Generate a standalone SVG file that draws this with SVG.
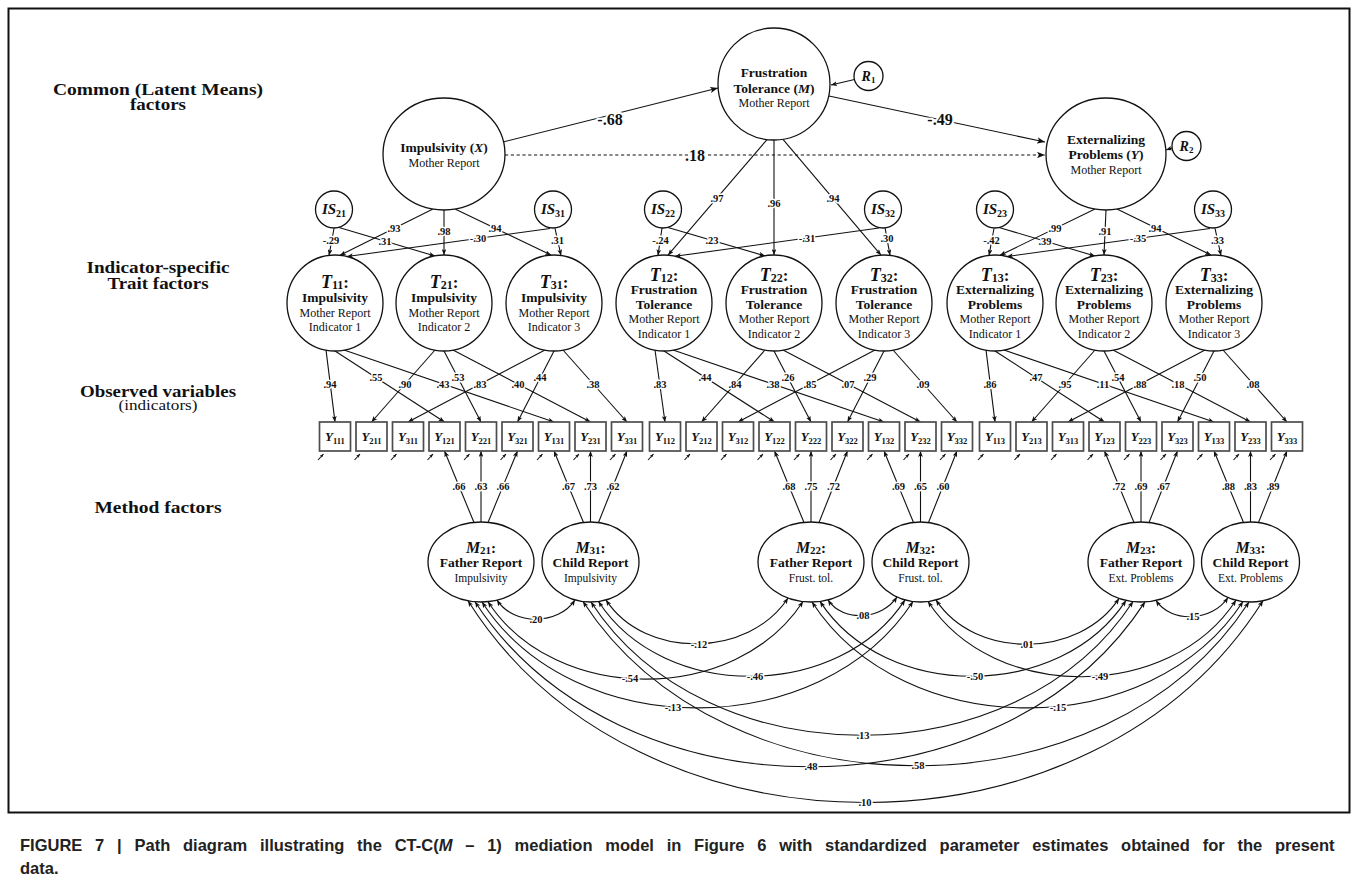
<svg xmlns="http://www.w3.org/2000/svg" width="1358" height="895" viewBox="0 0 1358 895">
<style>
.ln{fill:none;stroke:#111;stroke-width:1.1}
.dash{stroke-dasharray:3.2 2.6}
.nd{fill:#fff;stroke:#111;stroke-width:1.3}
.bx{fill:#fff;stroke:#4d4d4d;stroke-width:1.7}
text{font-family:"Liberation Serif","Times New Roman",serif;fill:#111;text-anchor:middle}
.b{font-weight:bold}
.bi{font-weight:bold;font-style:italic}
.f13{font-size:13.5px}
.sm{font-size:12px}
.xs{font-size:11.5px}
.lb{font-size:10.5px;font-weight:bold;stroke:#fff;stroke-width:3;paint-order:stroke;stroke-linejoin:round;dominant-baseline:central}
.big{font-size:16px;font-weight:bold;stroke:#fff;stroke-width:4;paint-order:stroke;stroke-linejoin:round;dominant-baseline:central}
.side{font-size:16px;font-weight:bold}
.cap{font-family:"Liberation Sans",Arial,sans-serif;font-weight:bold;font-size:16.5px;fill:#222;text-anchor:start}
</style>
<defs>
<marker id="a" viewBox="0 0 10 8" refX="10" refY="4" markerWidth="6" markerHeight="4.8" markerUnits="userSpaceOnUse" orient="auto-start-reverse"><path d="M0,0 L10,4 L0,8 L2.5,4z" fill="#111"/></marker>
<marker id="aL" viewBox="0 0 10 8" refX="10" refY="4" markerWidth="8" markerHeight="6.4" markerUnits="userSpaceOnUse" orient="auto-start-reverse"><path d="M0,0 L10,4 L0,8 L2.5,4z" fill="#111"/></marker>
<marker id="aS" viewBox="0 0 10 8" refX="10" refY="4" markerWidth="4" markerHeight="3.2" markerUnits="userSpaceOnUse" orient="auto"><path d="M0,0 L10,4 L0,8 L2.5,4z" fill="#111"/></marker>
</defs>

<!-- frame -->
<rect x="8.5" y="8.5" width="1341" height="804" fill="none" stroke="#111" stroke-width="2"/>

<!-- level captions -->
<g id="level-labels">
<text x="158" y="95" class="side" textLength="210" lengthAdjust="spacingAndGlyphs">Common (Latent Means)</text>
<text x="158" y="109.5" class="side" textLength="56" lengthAdjust="spacingAndGlyphs">factors</text>
<text x="158" y="273" class="side" textLength="143" lengthAdjust="spacingAndGlyphs">Indicator-specific</text>
<text x="158" y="289" class="side" textLength="101" lengthAdjust="spacingAndGlyphs">Trait factors</text>
<text x="158" y="397" class="side" textLength="156" lengthAdjust="spacingAndGlyphs">Observed variables</text>
<text x="158" y="410" style="font-size:14px" textLength="79" lengthAdjust="spacingAndGlyphs">(indicators)</text>
<text x="158" y="512.5" class="side" textLength="127" lengthAdjust="spacingAndGlyphs">Method factors</text>
</g>

<g id="connectors">
<!-- structural paths between common factors -->
<line x1="503" y1="142" x2="718" y2="88" class="ln" marker-end="url(#aL)"/>
<line x1="829" y1="96" x2="1045" y2="142" class="ln" marker-end="url(#aL)"/>
<line x1="505" y1="155" x2="1045" y2="155" class="ln dash" marker-end="url(#aL)"/>
<line x1="854.5" y1="79.5" x2="831" y2="85" class="ln" marker-end="url(#a)"/>
<line x1="1172" y1="148" x2="1166" y2="150" class="ln" marker-end="url(#a)"/>

<!-- common factors to trait factors -->
<line x1="433" y1="209" x2="340" y2="255.3" class="ln" marker-end="url(#a)"/>
<line x1="444" y1="210" x2="444" y2="255" class="ln" marker-end="url(#a)"/>
<line x1="455" y1="209" x2="551" y2="255.1" class="ln" marker-end="url(#a)"/>
<line x1="767" y1="139.6" x2="668" y2="255.2" class="ln" marker-end="url(#a)"/>
<line x1="774" y1="140" x2="774" y2="255" class="ln" marker-end="url(#a)"/>
<line x1="783" y1="139.3" x2="881" y2="255.1" class="ln" marker-end="url(#a)"/>
<line x1="1095" y1="209" x2="1000" y2="255.3" class="ln" marker-end="url(#a)"/>
<line x1="1106" y1="210" x2="1104" y2="255" class="ln" marker-end="url(#a)"/>
<line x1="1117" y1="209" x2="1211" y2="255.1" class="ln" marker-end="url(#a)"/>

<!-- indicator-specific factors to trait factors -->
<line x1="334" y1="228.5" x2="329" y2="255.4" class="ln" marker-end="url(#a)"/>
<line x1="339" y1="227.5" x2="435" y2="256" class="ln" marker-end="url(#a)"/>
<line x1="550" y1="228.5" x2="347" y2="256.5" class="ln" marker-end="url(#a)"/>
<line x1="555" y1="228.4" x2="561" y2="255.5" class="ln" marker-end="url(#a)"/>
<line x1="662" y1="228" x2="658" y2="255.4" class="ln" marker-end="url(#a)"/>
<line x1="668" y1="227.5" x2="765" y2="255.9" class="ln" marker-end="url(#a)"/>
<line x1="879" y1="228" x2="675" y2="256.3" class="ln" marker-end="url(#a)"/>
<line x1="885" y1="227.5" x2="890" y2="255.4" class="ln" marker-end="url(#a)"/>
<line x1="994" y1="228.5" x2="989" y2="255.4" class="ln" marker-end="url(#a)"/>
<line x1="999" y1="227.5" x2="1095" y2="256" class="ln" marker-end="url(#a)"/>
<line x1="1210" y1="228.5" x2="1007" y2="256.5" class="ln" marker-end="url(#a)"/>
<line x1="1215" y1="228.4" x2="1221" y2="255.5" class="ln" marker-end="url(#a)"/>

<!-- trait factors to observed variables -->
<line x1="326" y1="350" x2="335" y2="422" class="ln" marker-end="url(#a)"/>
<line x1="335" y1="351" x2="444.5" y2="422" class="ln" marker-end="url(#a)"/>
<line x1="344" y1="350" x2="554" y2="422" class="ln" marker-end="url(#a)"/>
<line x1="435" y1="350" x2="371.5" y2="422" class="ln" marker-end="url(#a)"/>
<line x1="444" y1="351" x2="481" y2="422" class="ln" marker-end="url(#a)"/>
<line x1="453" y1="350" x2="590.5" y2="422" class="ln" marker-end="url(#a)"/>
<line x1="545" y1="350" x2="408" y2="422" class="ln" marker-end="url(#a)"/>
<line x1="554" y1="351" x2="517.5" y2="422" class="ln" marker-end="url(#a)"/>
<line x1="563" y1="350" x2="627" y2="422" class="ln" marker-end="url(#a)"/>

<line x1="655" y1="350" x2="665" y2="422" class="ln" marker-end="url(#a)"/>
<line x1="664" y1="351" x2="774.5" y2="422" class="ln" marker-end="url(#a)"/>
<line x1="673" y1="350" x2="884" y2="422" class="ln" marker-end="url(#a)"/>
<line x1="765" y1="350" x2="701.5" y2="422" class="ln" marker-end="url(#a)"/>
<line x1="774" y1="351" x2="811" y2="422" class="ln" marker-end="url(#a)"/>
<line x1="783" y1="350" x2="920.5" y2="422" class="ln" marker-end="url(#a)"/>
<line x1="875" y1="350" x2="738" y2="422" class="ln" marker-end="url(#a)"/>
<line x1="884" y1="351" x2="847.5" y2="422" class="ln" marker-end="url(#a)"/>
<line x1="893" y1="350" x2="957" y2="422" class="ln" marker-end="url(#a)"/>

<line x1="986" y1="350" x2="995" y2="422" class="ln" marker-end="url(#a)"/>
<line x1="995" y1="351" x2="1104.5" y2="422" class="ln" marker-end="url(#a)"/>
<line x1="1004" y1="350" x2="1214" y2="422" class="ln" marker-end="url(#a)"/>
<line x1="1095" y1="350" x2="1031.5" y2="422" class="ln" marker-end="url(#a)"/>
<line x1="1104" y1="351" x2="1141" y2="422" class="ln" marker-end="url(#a)"/>
<line x1="1113" y1="350" x2="1250.5" y2="422" class="ln" marker-end="url(#a)"/>
<line x1="1205" y1="350" x2="1068" y2="422" class="ln" marker-end="url(#a)"/>
<line x1="1214" y1="351" x2="1177.5" y2="422" class="ln" marker-end="url(#a)"/>
<line x1="1223" y1="350" x2="1287" y2="422" class="ln" marker-end="url(#a)"/>

<!-- method factors to observed variables -->
<line x1="474" y1="522.5" x2="444.5" y2="451" class="ln" marker-end="url(#a)"/>
<line x1="481" y1="522" x2="481" y2="451" class="ln" marker-end="url(#a)"/>
<line x1="488" y1="522.5" x2="517.5" y2="451" class="ln" marker-end="url(#a)"/>
<line x1="583.5" y1="522.5" x2="554" y2="451" class="ln" marker-end="url(#a)"/>
<line x1="590.5" y1="522" x2="590.5" y2="451" class="ln" marker-end="url(#a)"/>
<line x1="598.5" y1="522.5" x2="627" y2="451" class="ln" marker-end="url(#a)"/>
<line x1="804" y1="522.5" x2="774.5" y2="451" class="ln" marker-end="url(#a)"/>
<line x1="811" y1="522" x2="811" y2="451" class="ln" marker-end="url(#a)"/>
<line x1="819" y1="522.5" x2="847.5" y2="451" class="ln" marker-end="url(#a)"/>
<line x1="913.5" y1="522.5" x2="884" y2="451" class="ln" marker-end="url(#a)"/>
<line x1="920.5" y1="522" x2="920.5" y2="451" class="ln" marker-end="url(#a)"/>
<line x1="928.5" y1="522.5" x2="957" y2="451" class="ln" marker-end="url(#a)"/>
<line x1="1134" y1="522.5" x2="1104.5" y2="451" class="ln" marker-end="url(#a)"/>
<line x1="1141" y1="522" x2="1141" y2="451" class="ln" marker-end="url(#a)"/>
<line x1="1149" y1="522.5" x2="1177.5" y2="451" class="ln" marker-end="url(#a)"/>
<line x1="1243.5" y1="522.5" x2="1214" y2="451" class="ln" marker-end="url(#a)"/>
<line x1="1250.5" y1="522" x2="1250.5" y2="451" class="ln" marker-end="url(#a)"/>
<line x1="1258.5" y1="522.5" x2="1287" y2="451" class="ln" marker-end="url(#a)"/>

<!-- residual arrows of the observed variables -->
<g class="ln" marker-end="url(#aS)">
<line x1="318" y1="460" x2="323.5" y2="454"/><line x1="354.5" y1="460" x2="360" y2="454"/><line x1="391" y1="460" x2="396.5" y2="454"/>
<line x1="427.5" y1="460" x2="433" y2="454"/><line x1="464" y1="460" x2="469.5" y2="454"/><line x1="500.5" y1="460" x2="506" y2="454"/>
<line x1="537" y1="460" x2="542.5" y2="454"/><line x1="573.5" y1="460" x2="579" y2="454"/><line x1="610" y1="460" x2="615.5" y2="454"/>
<line x1="648" y1="460" x2="653.5" y2="454"/><line x1="684.5" y1="460" x2="690" y2="454"/><line x1="721" y1="460" x2="726.5" y2="454"/>
<line x1="757.5" y1="460" x2="763" y2="454"/><line x1="794" y1="460" x2="799.5" y2="454"/><line x1="830.5" y1="460" x2="836" y2="454"/>
<line x1="867" y1="460" x2="872.5" y2="454"/><line x1="903.5" y1="460" x2="909" y2="454"/><line x1="940" y1="460" x2="945.5" y2="454"/>
<line x1="978" y1="460" x2="983.5" y2="454"/><line x1="1014.5" y1="460" x2="1020" y2="454"/><line x1="1051" y1="460" x2="1056.5" y2="454"/>
<line x1="1087.5" y1="460" x2="1093" y2="454"/><line x1="1124" y1="460" x2="1129.5" y2="454"/><line x1="1160.5" y1="460" x2="1166" y2="454"/>
<line x1="1197" y1="460" x2="1202.5" y2="454"/><line x1="1233.5" y1="460" x2="1239" y2="454"/><line x1="1270" y1="460" x2="1275.5" y2="454"/>
</g>

<!-- method factor correlations -->
<g class="ln" marker-start="url(#a)" marker-end="url(#a)">
<path d="M497,600.1 C513.6,625.7 558.4,625.5 575,599.9"/>
<path d="M828,599.9 C842.7,622.6 882.3,619.6 897,596.9"/>
<path d="M1156,600.4 C1171.4,624 1212.6,621.1 1228,597.5"/>
<path d="M606,599.9 C644.8,659.7 749.2,657.8 788,598"/>
<path d="M936,599.9 C975,660 1080,658.5 1119,598.4"/>
<path d="M488,601.7 C555.2,705.1 735.8,704.9 803,601.5"/>
<path d="M598.5,601.5 C663.9,702.2 839.6,700.6 905,599.9"/>
<path d="M820,601.4 C885.3,701.9 1060.7,700.9 1126,600.4"/>
<path d="M928,601.5 C993.7,702.6 1170.3,701.3 1236,600.2"/>
<path d="M482,602 C573.9,743.5 821.1,743 913,601.5"/>
<path d="M812,602 C903.9,743.5 1151.1,743 1243,601.5"/>
<path d="M591,602 C706.6,780 1017.4,779.5 1133,601.5"/>
<path d="M475,601.7 C617.9,821.7 1002.1,821.9 1145,601.9"/>
<path d="M583,601.5 C725.1,820.2 1106.9,820.7 1249,602"/>
<path d="M468,600.8 C637.6,869.8 1093.4,869.7 1263,600.7"/>
</g>

<!-- coefficient labels -->
<text x="610" y="119" class="big">-.68</text>
<text x="940" y="119.5" class="big">-.49</text>
<text x="695" y="155" class="big">.18</text>

<text x="394" y="228" class="lb">.93</text>
<text x="444" y="231" class="lb">.98</text>
<text x="495" y="228" class="lb">.94</text>
<text x="331" y="240" class="lb">-.29</text>
<text x="385" y="241.5" class="lb">.31</text>
<text x="478" y="238" class="lb">-.30</text>
<text x="557.5" y="240" class="lb">.31</text>

<text x="717" y="198" class="lb">.97</text>
<text x="774" y="203" class="lb">.96</text>
<text x="833" y="198" class="lb">.94</text>
<text x="660.5" y="240" class="lb">-.24</text>
<text x="712" y="240.5" class="lb">.23</text>
<text x="807" y="238" class="lb">-.31</text>
<text x="887" y="238" class="lb">.30</text>

<text x="1055" y="228" class="lb">.99</text>
<text x="1105" y="231" class="lb">.91</text>
<text x="1155" y="228" class="lb">.94</text>
<text x="991.5" y="240" class="lb">-.42</text>
<text x="1045" y="241.5" class="lb">.39</text>
<text x="1138" y="238" class="lb">-.35</text>
<text x="1217.5" y="240" class="lb">.33</text>

<text x="330" y="384" class="lb">.94</text>
<text x="376" y="377" class="lb">.55</text>
<text x="443" y="384" class="lb">.43</text>
<text x="405" y="384" class="lb">.90</text>
<text x="458" y="377" class="lb">.53</text>
<text x="518" y="384" class="lb">.40</text>
<text x="480" y="384" class="lb">.83</text>
<text x="540" y="377" class="lb">.44</text>
<text x="593" y="384" class="lb">.38</text>

<text x="660" y="384" class="lb">.83</text>
<text x="705" y="377" class="lb">.44</text>
<text x="773" y="384" class="lb">.38</text>
<text x="735" y="384" class="lb">.84</text>
<text x="788" y="377" class="lb">.26</text>
<text x="848" y="384" class="lb">.07</text>
<text x="810" y="384" class="lb">.85</text>
<text x="870" y="377" class="lb">.29</text>
<text x="923" y="384" class="lb">.09</text>

<text x="990" y="384" class="lb">.86</text>
<text x="1036" y="377" class="lb">.47</text>
<text x="1103" y="384" class="lb">.11</text>
<text x="1065" y="384" class="lb">.95</text>
<text x="1118" y="377" class="lb">.54</text>
<text x="1178" y="384" class="lb">.18</text>
<text x="1140" y="384" class="lb">.88</text>
<text x="1200" y="377" class="lb">.50</text>
<text x="1253" y="384" class="lb">.08</text>

<text x="459" y="486" class="lb">.66</text>
<text x="481" y="486" class="lb">.63</text>
<text x="503" y="486" class="lb">.66</text>
<text x="568.5" y="486" class="lb">.67</text>
<text x="590.5" y="486" class="lb">.73</text>
<text x="613" y="486" class="lb">.62</text>
<text x="789" y="486" class="lb">.68</text>
<text x="811" y="486" class="lb">.75</text>
<text x="833.5" y="486" class="lb">.72</text>
<text x="898.5" y="486" class="lb">.69</text>
<text x="920.5" y="486" class="lb">.65</text>
<text x="943" y="486" class="lb">.60</text>
<text x="1119" y="486" class="lb">.72</text>
<text x="1141" y="486" class="lb">.69</text>
<text x="1163.5" y="486" class="lb">.67</text>
<text x="1228.5" y="486" class="lb">.88</text>
<text x="1250.5" y="486" class="lb">.83</text>
<text x="1273" y="486" class="lb">.89</text>

<text x="536" y="619" class="lb">.20</text>
<text x="863" y="615.5" class="lb">.08</text>
<text x="1193" y="616.5" class="lb">.15</text>
<text x="699" y="644" class="lb">-.12</text>
<text x="1027" y="644" class="lb">.01</text>
<text x="630" y="678" class="lb">-.54</text>
<text x="755" y="676" class="lb">-.46</text>
<text x="975" y="676" class="lb">-.50</text>
<text x="1100" y="676" class="lb">-.49</text>
<text x="673" y="707" class="lb">-.13</text>
<text x="1058" y="707" class="lb">-.15</text>
<text x="863" y="735" class="lb">.13</text>
<text x="811" y="766" class="lb">.48</text>
<text x="918" y="765.5" class="lb">.58</text>
<text x="865" y="802" class="lb">.10</text>
</g>

<!-- common (latent means) factors -->
<g id="X">
<ellipse cx="444" cy="154" rx="61" ry="56" class="nd"/>
<text x="444" y="151.5" class="b f13">Impulsivity (<tspan class="bi">X</tspan>)</text>
<text x="444" y="167" class="sm">Mother Report</text>
</g>
<g id="M">
<circle cx="774" cy="84" r="56" class="nd"/>
<text x="774" y="77" class="b f13">Frustration</text>
<text x="774" y="92.5" class="b f13">Tolerance (<tspan class="bi">M</tspan>)</text>
<text x="774" y="107" class="sm">Mother Report</text>
</g>
<g id="Y">
<ellipse cx="1106" cy="154" rx="60" ry="56" class="nd"/>
<text x="1106" y="144" class="b f13">Externalizing</text>
<text x="1106" y="159" class="b f13">Problems (<tspan class="bi">Y</tspan>)</text>
<text x="1106" y="173.5" class="sm">Mother Report</text>
</g>
<g id="R1">
<circle cx="868.5" cy="76" r="14.5" class="nd"/>
<text x="868.5" y="81"><tspan class="bi" font-size="14">R</tspan><tspan class="b" font-size="9" dy="2">1</tspan></text>
</g>
<g id="R2">
<circle cx="1186.5" cy="146" r="14.5" class="nd"/>
<text x="1186.5" y="151"><tspan class="bi" font-size="14">R</tspan><tspan class="b" font-size="9" dy="2">2</tspan></text>
</g>

<!-- indicator-specific factors -->
<g id="IS21"><circle cx="334" cy="209.5" r="18.5" class="nd"/><text x="334" y="214"><tspan class="bi" font-size="15">IS</tspan><tspan class="b" font-size="10" dy="2.5">21</tspan></text></g>
<g id="IS31"><circle cx="553" cy="209.5" r="18.5" class="nd"/><text x="553" y="214"><tspan class="bi" font-size="15">IS</tspan><tspan class="b" font-size="10" dy="2.5">31</tspan></text></g>
<g id="IS22"><circle cx="663" cy="209.5" r="18.5" class="nd"/><text x="663" y="214"><tspan class="bi" font-size="15">IS</tspan><tspan class="b" font-size="10" dy="2.5">22</tspan></text></g>
<g id="IS32"><circle cx="883" cy="209.5" r="18.5" class="nd"/><text x="883" y="214"><tspan class="bi" font-size="15">IS</tspan><tspan class="b" font-size="10" dy="2.5">32</tspan></text></g>
<g id="IS23"><circle cx="995" cy="209.5" r="18.5" class="nd"/><text x="995" y="214"><tspan class="bi" font-size="15">IS</tspan><tspan class="b" font-size="10" dy="2.5">23</tspan></text></g>
<g id="IS33"><circle cx="1213" cy="209.5" r="18.5" class="nd"/><text x="1213" y="214"><tspan class="bi" font-size="15">IS</tspan><tspan class="b" font-size="10" dy="2.5">33</tspan></text></g>

<!-- trait factors -->
<g id="T11"><circle cx="335" cy="303" r="48" class="nd"/>
<text x="335" y="287.5"><tspan class="bi" font-size="18">T</tspan><tspan class="b" font-size="12" dy="1">11</tspan><tspan class="b" font-size="17" dy="-1">:</tspan></text>
<text x="335" y="301.5" class="b f13">Impulsivity</text><text x="335" y="316.5" class="sm">Mother Report</text><text x="335" y="331" class="sm">Indicator 1</text></g>
<g id="T21"><circle cx="444" cy="303" r="48" class="nd"/>
<text x="444" y="287.5"><tspan class="bi" font-size="18">T</tspan><tspan class="b" font-size="12" dy="1">21</tspan><tspan class="b" font-size="17" dy="-1">:</tspan></text>
<text x="444" y="301.5" class="b f13">Impulsivity</text><text x="444" y="316.5" class="sm">Mother Report</text><text x="444" y="331" class="sm">Indicator 2</text></g>
<g id="T31"><circle cx="554" cy="303" r="48" class="nd"/>
<text x="554" y="287.5"><tspan class="bi" font-size="18">T</tspan><tspan class="b" font-size="12" dy="1">31</tspan><tspan class="b" font-size="17" dy="-1">:</tspan></text>
<text x="554" y="301.5" class="b f13">Impulsivity</text><text x="554" y="316.5" class="sm">Mother Report</text><text x="554" y="331" class="sm">Indicator 3</text></g>

<g id="T12"><circle cx="664" cy="303" r="48" class="nd"/>
<text x="664" y="280.5"><tspan class="bi" font-size="18">T</tspan><tspan class="b" font-size="12" dy="1">12</tspan><tspan class="b" font-size="17" dy="-1">:</tspan></text>
<text x="664" y="294" class="b f13">Frustration</text><text x="664" y="308.5" class="b f13">Tolerance</text><text x="664" y="323" class="sm">Mother Report</text><text x="664" y="337.5" class="sm">Indicator 1</text></g>
<g id="T22"><circle cx="774" cy="303" r="48" class="nd"/>
<text x="774" y="280.5"><tspan class="bi" font-size="18">T</tspan><tspan class="b" font-size="12" dy="1">22</tspan><tspan class="b" font-size="17" dy="-1">:</tspan></text>
<text x="774" y="294" class="b f13">Frustration</text><text x="774" y="308.5" class="b f13">Tolerance</text><text x="774" y="323" class="sm">Mother Report</text><text x="774" y="337.5" class="sm">Indicator 2</text></g>
<g id="T32"><circle cx="884" cy="303" r="48" class="nd"/>
<text x="884" y="280.5"><tspan class="bi" font-size="18">T</tspan><tspan class="b" font-size="12" dy="1">32</tspan><tspan class="b" font-size="17" dy="-1">:</tspan></text>
<text x="884" y="294" class="b f13">Frustration</text><text x="884" y="308.5" class="b f13">Tolerance</text><text x="884" y="323" class="sm">Mother Report</text><text x="884" y="337.5" class="sm">Indicator 3</text></g>

<g id="T13"><circle cx="995" cy="303" r="48" class="nd"/>
<text x="995" y="280.5"><tspan class="bi" font-size="18">T</tspan><tspan class="b" font-size="12" dy="1">13</tspan><tspan class="b" font-size="17" dy="-1">:</tspan></text>
<text x="995" y="294" class="b f13">Externalizing</text><text x="995" y="308.5" class="b f13">Problems</text><text x="995" y="323" class="sm">Mother Report</text><text x="995" y="337.5" class="sm">Indicator 1</text></g>
<g id="T23"><circle cx="1104" cy="303" r="48" class="nd"/>
<text x="1104" y="280.5"><tspan class="bi" font-size="18">T</tspan><tspan class="b" font-size="12" dy="1">23</tspan><tspan class="b" font-size="17" dy="-1">:</tspan></text>
<text x="1104" y="294" class="b f13">Externalizing</text><text x="1104" y="308.5" class="b f13">Problems</text><text x="1104" y="323" class="sm">Mother Report</text><text x="1104" y="337.5" class="sm">Indicator 2</text></g>
<g id="T33"><circle cx="1214" cy="303" r="48" class="nd"/>
<text x="1214" y="280.5"><tspan class="bi" font-size="18">T</tspan><tspan class="b" font-size="12" dy="1">33</tspan><tspan class="b" font-size="17" dy="-1">:</tspan></text>
<text x="1214" y="294" class="b f13">Externalizing</text><text x="1214" y="308.5" class="b f13">Problems</text><text x="1214" y="323" class="sm">Mother Report</text><text x="1214" y="337.5" class="sm">Indicator 3</text></g>

<!-- observed variables -->
<g id="Y111"><rect x="319.5" y="422" width="31" height="29" class="bx"/><text x="335" y="441"><tspan class="bi" font-size="13">Y</tspan><tspan class="b" font-size="8.5" dy="2.5">111</tspan></text></g>
<g id="Y211"><rect x="356" y="422" width="31" height="29" class="bx"/><text x="371.5" y="441"><tspan class="bi" font-size="13">Y</tspan><tspan class="b" font-size="8.5" dy="2.5">211</tspan></text></g>
<g id="Y311"><rect x="392.5" y="422" width="31" height="29" class="bx"/><text x="408" y="441"><tspan class="bi" font-size="13">Y</tspan><tspan class="b" font-size="8.5" dy="2.5">311</tspan></text></g>
<g id="Y121"><rect x="429" y="422" width="31" height="29" class="bx"/><text x="444.5" y="441"><tspan class="bi" font-size="13">Y</tspan><tspan class="b" font-size="8.5" dy="2.5">121</tspan></text></g>
<g id="Y221"><rect x="465.5" y="422" width="31" height="29" class="bx"/><text x="481" y="441"><tspan class="bi" font-size="13">Y</tspan><tspan class="b" font-size="8.5" dy="2.5">221</tspan></text></g>
<g id="Y321"><rect x="502" y="422" width="31" height="29" class="bx"/><text x="517.5" y="441"><tspan class="bi" font-size="13">Y</tspan><tspan class="b" font-size="8.5" dy="2.5">321</tspan></text></g>
<g id="Y131"><rect x="538.5" y="422" width="31" height="29" class="bx"/><text x="554" y="441"><tspan class="bi" font-size="13">Y</tspan><tspan class="b" font-size="8.5" dy="2.5">131</tspan></text></g>
<g id="Y231"><rect x="575" y="422" width="31" height="29" class="bx"/><text x="590.5" y="441"><tspan class="bi" font-size="13">Y</tspan><tspan class="b" font-size="8.5" dy="2.5">231</tspan></text></g>
<g id="Y331"><rect x="611.5" y="422" width="31" height="29" class="bx"/><text x="627" y="441"><tspan class="bi" font-size="13">Y</tspan><tspan class="b" font-size="8.5" dy="2.5">331</tspan></text></g>

<g id="Y112"><rect x="649.5" y="422" width="31" height="29" class="bx"/><text x="665" y="441"><tspan class="bi" font-size="13">Y</tspan><tspan class="b" font-size="8.5" dy="2.5">112</tspan></text></g>
<g id="Y212"><rect x="686" y="422" width="31" height="29" class="bx"/><text x="701.5" y="441"><tspan class="bi" font-size="13">Y</tspan><tspan class="b" font-size="8.5" dy="2.5">212</tspan></text></g>
<g id="Y312"><rect x="722.5" y="422" width="31" height="29" class="bx"/><text x="738" y="441"><tspan class="bi" font-size="13">Y</tspan><tspan class="b" font-size="8.5" dy="2.5">312</tspan></text></g>
<g id="Y122"><rect x="759" y="422" width="31" height="29" class="bx"/><text x="774.5" y="441"><tspan class="bi" font-size="13">Y</tspan><tspan class="b" font-size="8.5" dy="2.5">122</tspan></text></g>
<g id="Y222"><rect x="795.5" y="422" width="31" height="29" class="bx"/><text x="811" y="441"><tspan class="bi" font-size="13">Y</tspan><tspan class="b" font-size="8.5" dy="2.5">222</tspan></text></g>
<g id="Y322"><rect x="832" y="422" width="31" height="29" class="bx"/><text x="847.5" y="441"><tspan class="bi" font-size="13">Y</tspan><tspan class="b" font-size="8.5" dy="2.5">322</tspan></text></g>
<g id="Y132"><rect x="868.5" y="422" width="31" height="29" class="bx"/><text x="884" y="441"><tspan class="bi" font-size="13">Y</tspan><tspan class="b" font-size="8.5" dy="2.5">132</tspan></text></g>
<g id="Y232"><rect x="905" y="422" width="31" height="29" class="bx"/><text x="920.5" y="441"><tspan class="bi" font-size="13">Y</tspan><tspan class="b" font-size="8.5" dy="2.5">232</tspan></text></g>
<g id="Y332"><rect x="941.5" y="422" width="31" height="29" class="bx"/><text x="957" y="441"><tspan class="bi" font-size="13">Y</tspan><tspan class="b" font-size="8.5" dy="2.5">332</tspan></text></g>

<g id="Y113"><rect x="979.5" y="422" width="31" height="29" class="bx"/><text x="995" y="441"><tspan class="bi" font-size="13">Y</tspan><tspan class="b" font-size="8.5" dy="2.5">113</tspan></text></g>
<g id="Y213"><rect x="1016" y="422" width="31" height="29" class="bx"/><text x="1031.5" y="441"><tspan class="bi" font-size="13">Y</tspan><tspan class="b" font-size="8.5" dy="2.5">213</tspan></text></g>
<g id="Y313"><rect x="1052.5" y="422" width="31" height="29" class="bx"/><text x="1068" y="441"><tspan class="bi" font-size="13">Y</tspan><tspan class="b" font-size="8.5" dy="2.5">313</tspan></text></g>
<g id="Y123"><rect x="1089" y="422" width="31" height="29" class="bx"/><text x="1104.5" y="441"><tspan class="bi" font-size="13">Y</tspan><tspan class="b" font-size="8.5" dy="2.5">123</tspan></text></g>
<g id="Y223"><rect x="1125.5" y="422" width="31" height="29" class="bx"/><text x="1141" y="441"><tspan class="bi" font-size="13">Y</tspan><tspan class="b" font-size="8.5" dy="2.5">223</tspan></text></g>
<g id="Y323"><rect x="1162" y="422" width="31" height="29" class="bx"/><text x="1177.5" y="441"><tspan class="bi" font-size="13">Y</tspan><tspan class="b" font-size="8.5" dy="2.5">323</tspan></text></g>
<g id="Y133"><rect x="1198.5" y="422" width="31" height="29" class="bx"/><text x="1214" y="441"><tspan class="bi" font-size="13">Y</tspan><tspan class="b" font-size="8.5" dy="2.5">133</tspan></text></g>
<g id="Y233"><rect x="1235" y="422" width="31" height="29" class="bx"/><text x="1250.5" y="441"><tspan class="bi" font-size="13">Y</tspan><tspan class="b" font-size="8.5" dy="2.5">233</tspan></text></g>
<g id="Y333"><rect x="1271.5" y="422" width="31" height="29" class="bx"/><text x="1287" y="441"><tspan class="bi" font-size="13">Y</tspan><tspan class="b" font-size="8.5" dy="2.5">333</tspan></text></g>

<!-- method factors -->
<g id="M21"><ellipse cx="481" cy="562" rx="53" ry="40" class="nd"/>
<text x="481" y="552.5"><tspan class="bi" font-size="16">M</tspan><tspan class="b" font-size="11" dy="1.5">21</tspan><tspan class="b" font-size="15" dy="-1.5">:</tspan></text>
<text x="481" y="567" class="b f13">Father Report</text><text x="481" y="581.5" class="xs">Impulsivity</text></g>
<g id="M31"><ellipse cx="590.5" cy="562" rx="48.5" ry="40" class="nd"/>
<text x="590.5" y="552.5"><tspan class="bi" font-size="16">M</tspan><tspan class="b" font-size="11" dy="1.5">31</tspan><tspan class="b" font-size="15" dy="-1.5">:</tspan></text>
<text x="590.5" y="567" class="b f13">Child Report</text><text x="590.5" y="581.5" class="xs">Impulsivity</text></g>
<g id="M22"><ellipse cx="811" cy="562" rx="53" ry="40" class="nd"/>
<text x="811" y="552.5"><tspan class="bi" font-size="16">M</tspan><tspan class="b" font-size="11" dy="1.5">22</tspan><tspan class="b" font-size="15" dy="-1.5">:</tspan></text>
<text x="811" y="567" class="b f13">Father Report</text><text x="811" y="581.5" class="xs">Frust. tol.</text></g>
<g id="M32"><ellipse cx="920.5" cy="562" rx="48.5" ry="40" class="nd"/>
<text x="920.5" y="552.5"><tspan class="bi" font-size="16">M</tspan><tspan class="b" font-size="11" dy="1.5">32</tspan><tspan class="b" font-size="15" dy="-1.5">:</tspan></text>
<text x="920.5" y="567" class="b f13">Child Report</text><text x="920.5" y="581.5" class="xs">Frust. tol.</text></g>
<g id="M23"><ellipse cx="1141" cy="562" rx="53" ry="40" class="nd"/>
<text x="1141" y="552.5"><tspan class="bi" font-size="16">M</tspan><tspan class="b" font-size="11" dy="1.5">23</tspan><tspan class="b" font-size="15" dy="-1.5">:</tspan></text>
<text x="1141" y="567" class="b f13">Father Report</text><text x="1141" y="581.5" class="xs">Ext. Problems</text></g>
<g id="M33"><ellipse cx="1250.5" cy="562" rx="49" ry="40" class="nd"/>
<text x="1250.5" y="552.5"><tspan class="bi" font-size="16">M</tspan><tspan class="b" font-size="11" dy="1.5">33</tspan><tspan class="b" font-size="15" dy="-1.5">:</tspan></text>
<text x="1250.5" y="567" class="b f13">Child Report</text><text x="1250.5" y="581.5" class="xs">Ext. Problems</text></g>

<!-- caption (first line justified to the full width) -->
<text x="20" y="851" class="cap" word-spacing="8.2">FIGURE 7 | Path diagram illustrating the CT-C(<tspan font-style="italic">M</tspan> – 1) mediation model in Figure 6 with standardized parameter estimates obtained for the present</text>
<text x="20" y="874" class="cap">data.</text>
</svg>
